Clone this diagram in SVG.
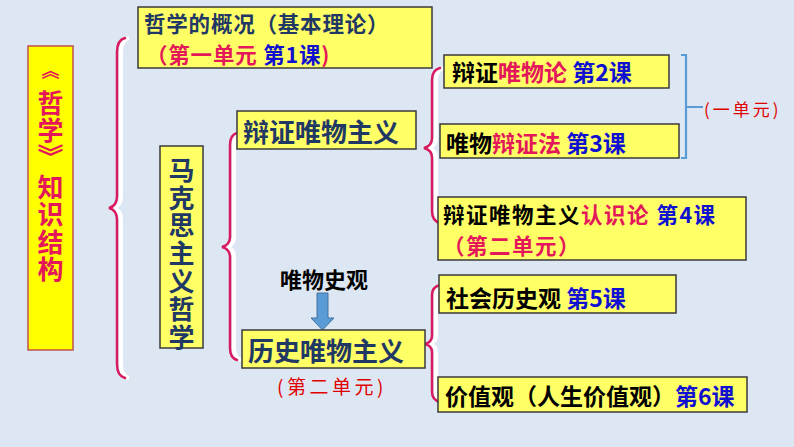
<svg xmlns="http://www.w3.org/2000/svg" width="794" height="447" viewBox="0 0 794 447">
<style>
.bg{fill:#DDE7F3}
.box{fill:#FFFF66;stroke:#3A3A3A;stroke-width:1.5}
.t{font-family:"Noto Sans CJK SC","Noto Sans",sans-serif;font-weight:700;dominant-baseline:central}
.v{font-family:"Noto Sans CJK SC","Noto Sans",sans-serif;font-weight:700;writing-mode:vertical-rl}
.navy{fill:#1F3864}
.blk{fill:#000}
.red{fill:#E3175A}
.blu{fill:#1010D0}
.hand{font-family:"Noto Sans CJK SC",sans-serif;font-weight:400;fill:#E00000;dominant-baseline:central}
.br{fill:none;stroke:#D81B60;stroke-width:2.5;stroke-linecap:round}
.sh{fill:none;stroke:#FFFFFF;stroke-width:4}
</style>
<rect class="bg" x="0" y="0" width="794" height="447"/>
<g id="connectors">
<path class="sh" d="M129,38 Q121,40 121,52 L121,196 Q121,206 113,208 Q121,210 121,220 L121,364 Q121,376 129,378"/>
<path class="br" d="M125,38 Q117,40 117,52 L117,196 Q117,206 109,208 Q117,210 117,220 L117,364 Q117,376 125,378"/>
<path class="sh" d="M241,133 Q234,135 234,145 L234,237 Q234,245 226,247 Q234,249 234,257 L234,348 Q234,358 241,360"/>
<path class="br" d="M237,133 Q230,135 230,145 L230,237 Q230,245 222,247 Q230,249 230,257 L230,348 Q230,358 237,360"/>
<path class="sh" d="M444,68 Q436,70 436,80 L436,138 Q436,146 428,148 Q436,150 436,158 L436,211 Q436,221 444,223"/>
<path class="br" d="M440,68 Q432,70 432,80 L432,138 Q432,146 424,148 Q432,150 432,158 L432,211 Q432,221 440,223"/>
<path class="sh" d="M444,285 Q436,287 436,295 L436,336 Q436,342 429,344 Q436,346 436,352 L436,392 Q436,400 444,402"/>
<path class="br" d="M440,285 Q432,287 432,295 L432,336 Q432,342 425,344 Q432,346 432,352 L432,392 Q432,400 440,402"/>
<path d="M681,55 L686,55 L686,158 L681,158 M686,107 L703,107" fill="none" stroke="#5B9BD5" stroke-width="2.2"/>
<path d="M317,293 L328,293 L328,318 L334,318 L322.5,330 L311,318 L317,318 Z" fill="#5B9BD5" stroke="#41719C" stroke-width="1"/>
</g>
<g id="title">
<rect x="28" y="46" width="45" height="304" fill="#FFFF00" stroke="#C0504D" stroke-width="1.5"/>
<text class="t red" x="50.5" y="69" text-anchor="middle" font-size="18">︽</text>
<text class="v red" x="50.5" y="90" font-size="26" letter-spacing="1">哲学︾</text>
<text class="v red" x="50.5" y="174" font-size="26" letter-spacing="1.5">知识结构</text>
</g>
<g id="overview">
<rect class="box" x="138" y="7" width="294" height="61"/>
<text class="t" font-size="21.5" letter-spacing="0.8"><tspan class="navy" x="144" y="22">哲学的概况（基本理论）</tspan><tspan x="146" y="53"><tspan class="red">（第一单元 </tspan><tspan class="blu">第1课</tspan><tspan class="red">)</tspan></tspan></text>
</g>
<g id="marxism">
<rect class="box" x="160" y="146" width="43" height="202"/>
<text class="v navy" x="181.5" y="157" font-size="26" letter-spacing="1.8">马克思主义哲学</text>
</g>
<g id="dialectical">
<rect class="box" x="237" y="111" width="179" height="38"/>
<text class="t navy" x="243" y="130" font-size="26">辩证唯物主义</text>
</g>
<g id="histview">
<text class="t blk" x="280" y="278" font-size="22">唯物史观</text>
</g>
<g id="historical">
<rect class="box" x="242" y="330" width="183" height="38"/>
<text class="t navy" x="248" y="349" font-size="26">历史唯物主义</text>
<text class="hand" x="277" y="385" font-size="19" letter-spacing="3.5">(第二单元)</text>
</g>
<g id="lesson2">
<rect class="box" x="444" y="55" width="225" height="33"/>
<text class="t" x="452" y="71" font-size="23"><tspan class="blk">辩证</tspan><tspan class="red">唯物论</tspan><tspan class="blu"> 第2课</tspan></text>
</g>
<g id="lesson3">
<rect class="box" x="440" y="124" width="239" height="34"/>
<text class="t" x="446" y="142" font-size="23"><tspan class="blk">唯物</tspan><tspan class="red">辩证法</tspan><tspan class="blu"> 第3课</tspan></text>
</g>
<g id="unit1">
<text class="hand" x="704" y="108" font-size="17" letter-spacing="3">(一单元)</text>
</g>
<g id="lesson4">
<rect class="box" x="438" y="197" width="308" height="63"/>
<text class="t" font-size="21.5" letter-spacing="1.5"><tspan x="443" y="213"><tspan class="blk">辩证唯物主义</tspan><tspan class="red">认识论</tspan><tspan class="blu"> 第4课</tspan></tspan><tspan class="red" x="443" y="244">（第二单元）</tspan></text>
</g>
<g id="lesson5">
<rect class="box" x="439" y="275" width="237" height="38"/>
<text class="t" x="446" y="297" font-size="23"><tspan class="blk">社会历史观</tspan><tspan class="blu"> 第5课</tspan></text>
</g>
<g id="lesson6">
<rect class="box" x="438" y="377" width="309" height="35"/>
<text class="t" x="445" y="395" font-size="23"><tspan class="blk">价值观（人生价值观）</tspan><tspan class="blu">第6课</tspan></text>
</g>
</svg>
